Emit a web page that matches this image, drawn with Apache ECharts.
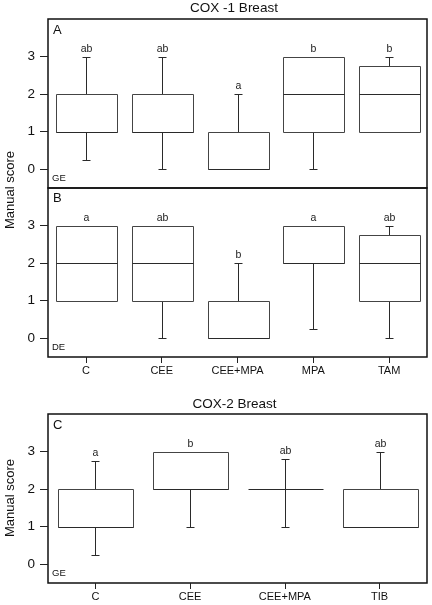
<!DOCTYPE html>
<html><head><meta charset="utf-8">
<script src="https://cdn.jsdelivr.net/npm/echarts@6/dist/echarts.min.js"></script>
<style>html,body{margin:0;padding:0;background:#fff}#c{width:432px;height:605px}</style>
</head><body><div id="c"></div><script>
// Categories
const cats1 = ['C', 'CEE', 'CEE+MPA', 'MPA', 'TAM'];
const cats2 = ['C', 'CEE', 'CEE+MPA', 'TIB'];
const yTicks = [0, 1, 2, 3];
// Each row: [min, q1, median, q3, max]
const cox1GE = [[0.25, 1, 1, 2, 3], [0, 1, 1, 2, 3], [0, 0, 0, 1, 2], [0, 1, 2, 3, 3], [1, 1, 2, 2.75, 3]];
const cox1GELetters = ['ab', 'ab', 'a', 'b', 'b'];
const cox1DE = [[1, 1, 2, 3, 3], [0, 1, 2, 3, 3], [0, 0, 0, 1, 2], [0.25, 2, 2, 3, 3], [0, 1, 2, 2.75, 3]];
const cox1DELetters = ['a', 'ab', 'b', 'a', 'ab'];
const cox2GE = [[0.25, 1, 1, 2, 2.75], [1, 2, 2, 3, 3], [1, 2, 2, 2, 2.8], [1, 1, 1, 2, 3]];
const cox2GELetters = ['a', 'b', 'ab', 'ab'];

const FONT = '"Liberation Sans", Arial, sans-serif';
const chart = echarts.init(document.getElementById('c'), null, {renderer: 'canvas'});

function makeRender(letters) {
  return function (params, api) {
    const i = api.value(0);
    const vmin = api.value(1), q1 = api.value(2), med = api.value(3), q3 = api.value(4), vmax = api.value(5);
    const bw = api.size([1, 0])[0] * 0.8;
    const cx = Math.round(api.coord([i, 0])[0]) + 0.5;
    const y = v => Math.round(api.coord([i, v])[1]) + 0.5;
    const capW = 4;
    const ls = {stroke: '#2a2a2a', lineWidth: 1, fill: null};
    const bs = {stroke: '#444', lineWidth: 1, fill: null};
    const ch = [];
    if (vmax > q3) {
      ch.push({type: 'line', shape: {x1: cx, y1: y(q3), x2: cx, y2: y(vmax)}, style: ls});
      ch.push({type: 'line', shape: {x1: cx - capW, y1: y(vmax), x2: cx + capW, y2: y(vmax)}, style: ls});
    }
    if (vmin < q1) {
      ch.push({type: 'line', shape: {x1: cx, y1: y(q1), x2: cx, y2: y(vmin)}, style: ls});
      ch.push({type: 'line', shape: {x1: cx - capW, y1: y(vmin), x2: cx + capW, y2: y(vmin)}, style: ls});
    }
    const x0 = Math.round(cx - bw / 2) + 0.5, x1 = Math.round(cx + bw / 2) + 0.5;
    if (q3 > q1) {
      ch.push({type: 'rect', shape: {x: x0, y: y(q3), width: x1 - x0, height: y(q1) - y(q3)}, style: bs});
    }
    ch.push({type: 'line', shape: {x1: x0, y1: y(med), x2: x1, y2: y(med)}, style: ls});
    ch.push({type: 'text', x: cx, y: y(vmax) - 8, style: {text: letters[params.dataIndex], fontSize: 10.5, fontFamily: FONT, fill: '#222', align: 'center', verticalAlign: 'middle'}});
    return {type: 'group', children: ch};
  };
}

function yAxis(gi) {
  return {
    type: 'value', gridIndex: gi, min: -0.5, max: 4,
    axisLine: {show: false, onZero: false}, splitLine: {show: false},
    axisTick: {show: true, length: 8, customValues: yTicks, lineStyle: {color: '#222', width: 1}},
    axisLabel: {customValues: yTicks, fontSize: 13.5, margin: 13, color: '#111', fontFamily: FONT}
  };
}
function xAxis(gi, cats, showLabels) {
  return {
    type: 'category', gridIndex: gi, data: cats, boundaryGap: true, position: 'bottom',
    axisLine: {show: false, onZero: false}, splitLine: {show: false},
    axisTick: {show: showLabels, alignWithLabel: true, length: 6, lineStyle: {color: '#222', width: 1}},
    axisLabel: {show: showLabels, fontSize: 11, margin: 8, color: '#111', fontFamily: FONT}
  };
}
const gridStyle = {show: true, borderColor: '#111', borderWidth: 1.5, backgroundColor: 'transparent'};

function txt(text, x, y, size, extra) {
  return Object.assign({type: 'text', x: x, y: y, style: {text: text, fontSize: size, fontFamily: FONT, fill: '#111', align: 'left', verticalAlign: 'middle'}}, extra || {});
}

chart.setOption({
  animation: false,
  backgroundColor: '#fff',
  grid: [
    Object.assign({left: 48, top: 19, width: 379, height: 169}, gridStyle),
    Object.assign({left: 48, top: 188, width: 379, height: 169}, gridStyle),
    Object.assign({left: 48, top: 414, width: 379, height: 169}, gridStyle)
  ],
  xAxis: [xAxis(0, cats1, false), xAxis(1, cats1, true), xAxis(2, cats2, true)],
  yAxis: [yAxis(0), yAxis(1), yAxis(2)],
  series: [
    {type: 'custom', xAxisIndex: 0, yAxisIndex: 0, renderItem: makeRender(cox1GELetters),
     encode: {x: 0, y: [1, 2, 3, 4, 5]}, data: cox1GE.map((d, i) => [i].concat(d))},
    {type: 'custom', xAxisIndex: 1, yAxisIndex: 1, renderItem: makeRender(cox1DELetters),
     encode: {x: 0, y: [1, 2, 3, 4, 5]}, data: cox1DE.map((d, i) => [i].concat(d))},
    {type: 'custom', xAxisIndex: 2, yAxisIndex: 2, renderItem: makeRender(cox2GELetters),
     encode: {x: 0, y: [1, 2, 3, 4, 5]}, data: cox2GE.map((d, i) => [i].concat(d))}
  ],
  graphic: [
    {type: 'text', x: 234, y: 8.5, style: {text: 'COX -1 Breast', fontSize: 13.5, fontFamily: FONT, fill: '#111', align: 'center', verticalAlign: 'middle'}},
    {type: 'text', x: 234.5, y: 404, style: {text: 'COX-2 Breast', fontSize: 13.5, fontFamily: FONT, fill: '#111', align: 'center', verticalAlign: 'middle'}},
    txt('A', 53, 30, 13), txt('B', 53, 198, 13), txt('C', 53, 425, 13),
    txt('GE', 52, 178, 9.5), txt('DE', 52, 347, 9.5), txt('GE', 52, 573, 9.5),
    {type: 'text', x: 10, y: 190, rotation: Math.PI / 2, style: {text: 'Manual score', fontSize: 13, fontFamily: FONT, fill: '#111', align: 'center', verticalAlign: 'middle'}},
    {type: 'text', x: 10, y: 498, rotation: Math.PI / 2, style: {text: 'Manual score', fontSize: 13, fontFamily: FONT, fill: '#111', align: 'center', verticalAlign: 'middle'}}
  ]
});
</script></body></html>
